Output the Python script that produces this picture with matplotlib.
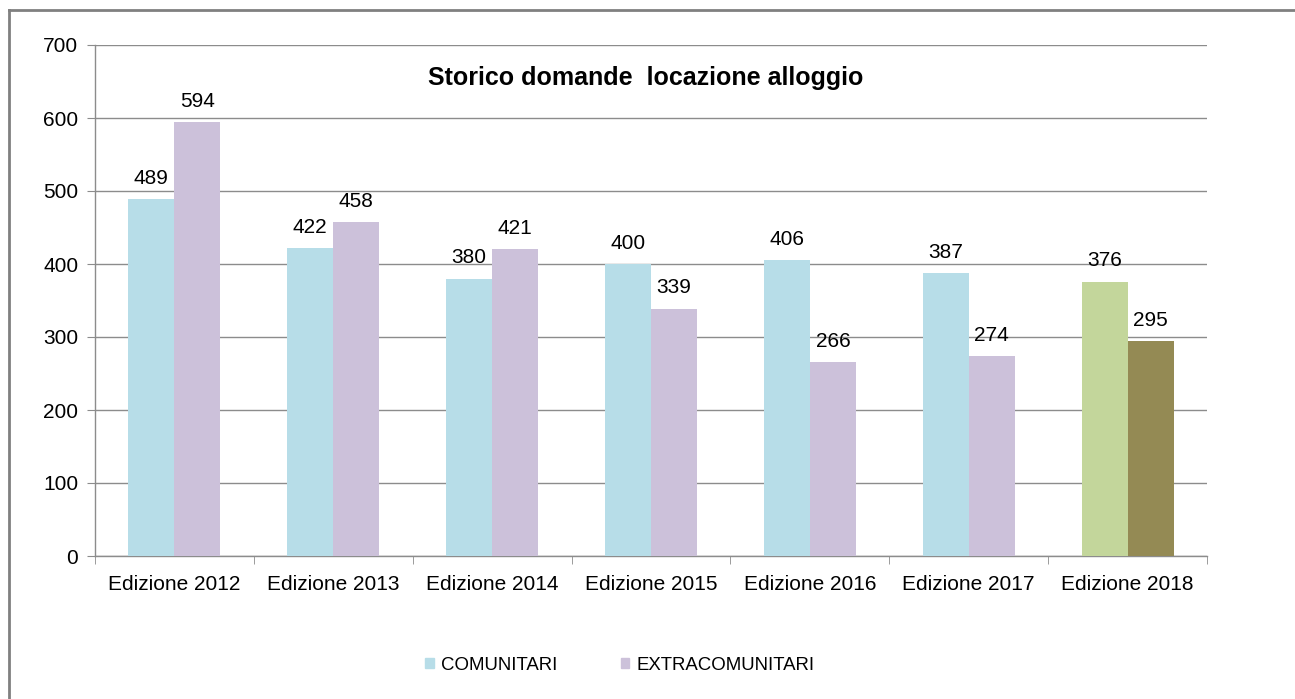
import matplotlib.pyplot as plt
import numpy as np
from matplotlib.lines import Line2D
from matplotlib.patches import Patch

plt.rcParams['font.family'] = ['Liberation Sans', 'DejaVu Sans']

categories = ["Edizione 2012", "Edizione 2013", "Edizione 2014", "Edizione 2015",
              "Edizione 2016", "Edizione 2017", "Edizione 2018"]
comunitari = [489, 422, 380, 400, 406, 387, 376]
extracomunitari = [594, 458, 421, 339, 266, 274, 295]
series_names = ["COMUNITARI", "EXTRACOMUNITARI"]

col_com = ["#B7DDE8"] * 6 + ["#C3D69B"]
col_ext = ["#CCC1DA"] * 6 + ["#948A54"]

fig = plt.figure(figsize=(12.95, 6.99), dpi=100)
ax = fig.add_axes([95/1295, 1-556/699, (1207-95)/1295, (556-45)/699])

x = np.arange(len(categories))
w = 0.29
b1 = ax.bar(x - w/2, comunitari, w, color=col_com, zorder=3)
b2 = ax.bar(x + w/2, extracomunitari, w, color=col_ext, zorder=3)

for bars, vals in ((b1, comunitari), (b2, extracomunitari)):
    for r, v in zip(bars, vals):
        ax.annotate(str(v), (r.get_x() + r.get_width()/2, v), xytext=(0, 8),
                    textcoords="offset points", ha="center", va="bottom", fontsize=15)

ax.set_xlim(-0.5, len(categories) - 0.5)
ax.set_ylim(0, 700)
ax.set_yticks(range(0, 701, 100))
ax.yaxis.grid(True, color="#8c8c8c", linewidth=1, zorder=0)
ax.set_axisbelow(True)

ax.set_xticks(x)
ax.set_xticklabels(categories, fontsize=15)
ax.tick_params(axis="x", length=0, pad=14)
ax.set_xticks(np.arange(-0.5, len(categories)), minor=True)
ax.tick_params(axis="x", which="minor", length=6, color="#8c8c8c", direction="out")
ax.tick_params(axis="y", labelsize=15, length=6, color="#8c8c8c", pad=6)

for s in ("top", "right"):
    ax.spines[s].set_visible(False)
for s in ("left", "bottom"):
    ax.spines[s].set_color("#8c8c8c")
    ax.spines[s].set_linewidth(1)

ax.text(0.495, 0.935, "Storico domande  locazione alloggio", transform=ax.transAxes,
        ha="center", va="center", fontsize=18, fontweight="bold")

handles = [Patch(color=col_com[0]), Patch(color=col_ext[0])]
fig.legend(handles, series_names, loc="center", bbox_to_anchor=(620/1295, 1-665/699),
           ncol=2, frameon=False, fontsize=13.4, handlelength=0.45, handleheight=0.45,
           handletextpad=0.4, columnspacing=3.4)

# outer chart border (left and top only visible)
fig.add_artist(Line2D([9/1295, 9/1295], [0, 1-10/699], transform=fig.transFigure,
                      color="#808080", linewidth=2))
fig.add_artist(Line2D([9/1295, 1], [1-10/699, 1-10/699], transform=fig.transFigure,
                      color="#808080", linewidth=2))

fig.savefig("out.png", dpi=100)
